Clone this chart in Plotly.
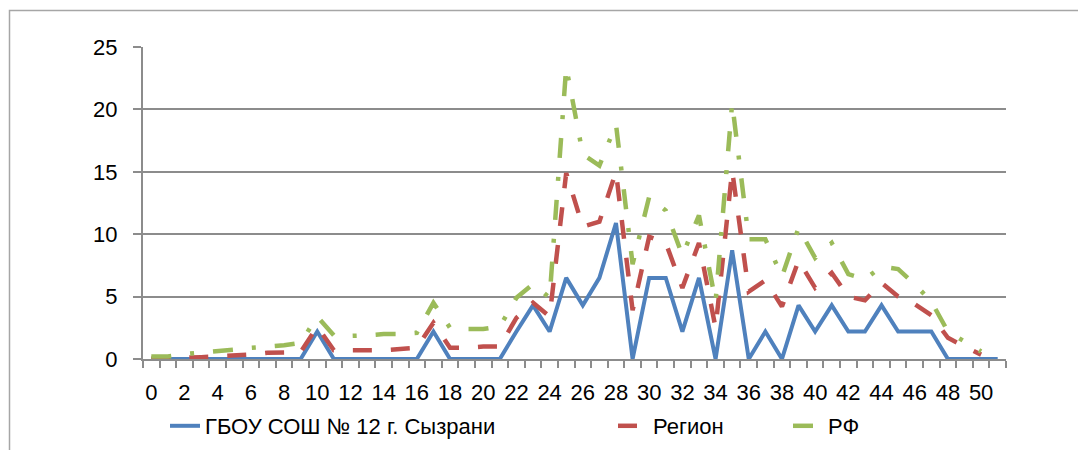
import plotly.graph_objects as go

# Categories (scores 0..51)
categories = list(range(52))
tick_labels = [str(v) for v in range(0, 51, 2)]

# ГБОУ СОШ № 12 г. Сызрани (percent of students)
school = [0, 0, 0, 0, 0, 0, 0, 0, 0, 0,
          2.2, 0, 0, 0, 0, 0, 0, 2.2, 0, 0,
          0, 0, 2.2, 4.3, 2.2, 6.5, 4.3, 6.5, 10.9, 0,
          6.5, 6.5, 2.2, 6.5, 0, 8.7, 0, 2.2, 0, 4.3,
          2.2, 4.3, 2.2, 2.2, 4.3, 2.2, 2.2, 2.2, 0, 0,
          0, 0]

# Регион
region = [0.05, 0.05, 0.1, 0.15, 0.2, 0.3, 0.35, 0.5, 0.5, 0.55,
          2.6, 0.7, 0.7, 0.7, 0.7, 0.8, 0.9, 2.9, 0.9, 0.9,
          1.0, 1.0, 3.3, 4.5, 3.4, 14.9, 10.6, 11.0, 15.0, 3.9,
          9.8, 9.3, 5.7, 9.3, 2.5, 15.1, 5.4, 6.3, 4.2, 7.9,
          5.7, 6.9, 5.0, 4.7, 6.1, 5.0, 4.4, 3.5, 1.7, 1.0,
          0.35]

# РФ
russia = [0.2, 0.2, 0.4, 0.5, 0.6, 0.75, 0.9, 1.0, 1.1, 1.3,
          3.4, 1.9, 1.85, 1.9, 2.0, 2.0, 2.1, 4.5, 2.5, 2.4,
          2.4, 2.6, 4.9, 6.0, 4.9, 23.4, 16.4, 15.5, 18.8, 7.6,
          13.0, 11.9, 8.3, 11.5, 4.6, 20.5, 9.6, 9.6, 6.6, 10.5,
          8.1, 9.3, 6.8, 6.4, 7.4, 7.2, 6.0, 4.6, 2.2, 1.4,
          0.6]

series_names = ["ГБОУ СОШ № 12 г. Сызрани", "Регион", "РФ"]
colors = ["#4F81BD", "#C0504D", "#9BBB59"]

FONT = "Liberation Sans, Arial, sans-serif"
GRID = "#8c8c8c"
FS = 22

fig = go.Figure()
fig.add_trace(go.Scatter(
    x=categories[:len(school)], y=school, mode="lines", name=series_names[0],
    line=dict(color=colors[0], width=4), legend="legend"))
fig.add_trace(go.Scatter(
    x=categories[:len(region)], y=region, mode="lines", name=series_names[1],
    line=dict(color=colors[1], width=4.5, dash="19px,19px"), legend="legend2"))
fig.add_trace(go.Scatter(
    x=categories[:len(russia)], y=russia, mode="lines", name=series_names[2],
    line=dict(color=colors[2], width=4.5, dash="20px,19px,4px,19px"), legend="legend3"))

# page has an 8px body margin: figure coordinates = page coordinates - 8
OFF = 8
W, H = 1086, 450
L, T = 143 - OFF, 47 - OFF
pw, ph = 863, 312
R, B = W - L - pw, H - T - ph

def px_x(p):
    return (p - OFF - L) / pw

def px_y(p):
    return (H - B - (p - OFF)) / ph

legend_common = dict(
    orientation="h", xref="paper", yref="paper",
    xanchor="left", yanchor="middle", y=px_y(426),
    font=dict(family=FONT, size=FS, color="#000000"),
    bgcolor="rgba(0,0,0,0)", borderwidth=0,
)

fig.update_layout(
    width=W, height=H,
    margin=dict(l=L, r=R, t=T, b=B, autoexpand=False),
    paper_bgcolor="white", plot_bgcolor="white",
    font=dict(family=FONT, size=FS, color="#000000"),
    showlegend=True,
    legend=dict(legend_common, x=px_x(165)),
    legend2=dict(legend_common, x=px_x(613)),
    legend3=dict(legend_common, x=px_x(788)),
    xaxis=dict(
        range=[-0.5, len(categories) - 0.5],
        tickmode="array",
        tickvals=[int(t) for t in tick_labels],
        ticktext=tick_labels,
        ticks="",
        showgrid=False, zeroline=False,
        showline=True, linecolor=GRID, linewidth=2,
        tickfont=dict(family=FONT, size=FS, color="#000000"),
        ticklabelstandoff=13,
        minor=dict(ticks="outside", tickmode="linear", tick0=-0.5, dtick=1,
                   ticklen=7, tickcolor=GRID, tickwidth=2, showgrid=False),
        fixedrange=True,
    ),
    yaxis=dict(
        range=[0, 25], tickmode="linear", tick0=0, dtick=5,
        showgrid=True, gridcolor=GRID, gridwidth=2,
        zeroline=False,
        showline=True, linecolor=GRID, linewidth=2,
        ticks="outside", ticklen=8, tickcolor=GRID, tickwidth=2,
        tickfont=dict(family=FONT, size=FS, color="#000000"),
        ticklabelstandoff=11,
        fixedrange=True,
    ),
    shapes=[dict(
        type="rect", xref="paper", yref="paper",
        x0=px_x(9.5), x1=px_x(1100), y0=px_y(470), y1=px_y(10.5),
        line=dict(color="#a6a6a6", width=1.5), fillcolor="rgba(0,0,0,0)",
        layer="below",
    )],
)

fig.write_html("out.html")
